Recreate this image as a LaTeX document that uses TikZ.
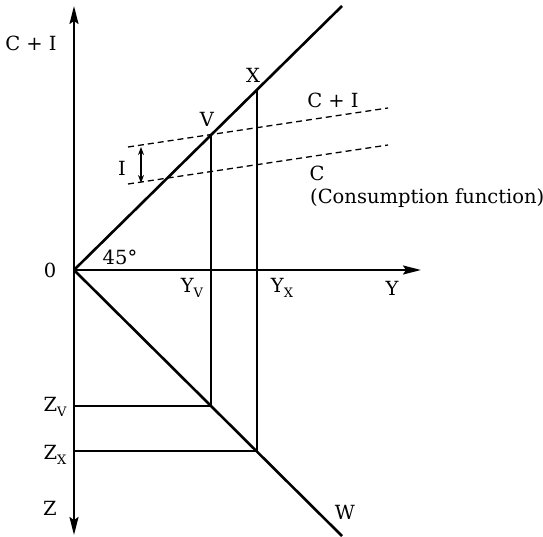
\documentclass[tikz,border=0pt]{standalone}
\usepackage{fontspec}
\setmainfont{DejaVu Serif}
\usetikzlibrary{arrows.meta}
\newcommand{\mysub}[1]{\raisebox{-5pt}{\fontsize{13}{14}\selectfont #1}}
\begin{document}
\begin{tikzpicture}[x=1pt,y=-1pt,
  axis/.style={line width=2pt,-{Stealth[length=18pt,width=9pt,inset=3pt]}},
  diag/.style={line width=2.6pt},
  guide/.style={line width=1.6pt},
  dashline/.style={line width=1.3pt,dash pattern=on 6pt off 4pt},
  lbl/.style={inner sep=0pt,font=\fontsize{19.5}{22}\selectfont}]
\useasboundingbox (0,0) rectangle (543,537);
\coordinate (O) at (74,270);
\coordinate (T) at (74,6);
\coordinate (B) at (74,535);
\coordinate (R) at (421,270);
\coordinate (U) at (342,6);
\coordinate (D) at (342,536);
\coordinate (V) at (211,135.6);
\coordinate (X) at (257,90.4);
\coordinate (ZVc) at (211,406);
\coordinate (ZXc) at (257,451);
\coordinate (ZV0) at (74,406);
\coordinate (ZX0) at (74,451);
\coordinate (CIa) at (128,147);
\coordinate (CIb) at (388,108);
\coordinate (Ca) at (128,184);
\coordinate (Cb) at (388,145);
\coordinate (Ia) at (141,147);
\coordinate (Ib) at (141,183);
% axes
\draw[axis] (O) -- (T);
\draw[axis] (O) -- (B);
\draw[axis] (O) -- (R);
% 45 degree lines
\draw[diag] (O) -- (U);
\draw[diag] (O) -- (D);
% guides
\draw[guide] (X) -- (ZXc) -- (ZX0);
\draw[guide] (V) -- (ZVc) -- (ZV0);
% dashed
\draw[dashline] (CIa) -- (CIb);
\draw[dashline] (Ca) -- (Cb);
\draw[guide,{Stealth[length=8pt,width=6pt]}-{Stealth[length=8pt,width=6pt]}] (Ia) -- (Ib);
% labels
\node[lbl] (lCI) at (31,43) {C + I};
\node[lbl] (lV) at (207,119) {V};
\node[lbl] (lX) at (253,75) {X};
\node[lbl] (lCI2) at (333,100) {C + I};
\node[lbl] (lC) at (317,173) {C};
\node[lbl,anchor=west] (lCf) at (310,198) {(Consumption function)};
\node[lbl] (lI) at (122,168) {I};
\node[lbl] (l0) at (50,270) {0};
\node[lbl] (l45) at (120,257) {45°};
\node[lbl] (lYV) at (192,288) {Y\mysub{V}};
\node[lbl] (lYX) at (282,288) {Y\mysub{X}};
\node[lbl] (lY) at (392,288) {Y};
\node[lbl] (lZV) at (55,407) {Z\mysub{V}};
\node[lbl] (lZX) at (55,455) {Z\mysub{X}};
\node[lbl] (lZ) at (50,508) {Z};
\node[lbl] (lW) at (345,512) {W};
\end{tikzpicture}
\end{document}
